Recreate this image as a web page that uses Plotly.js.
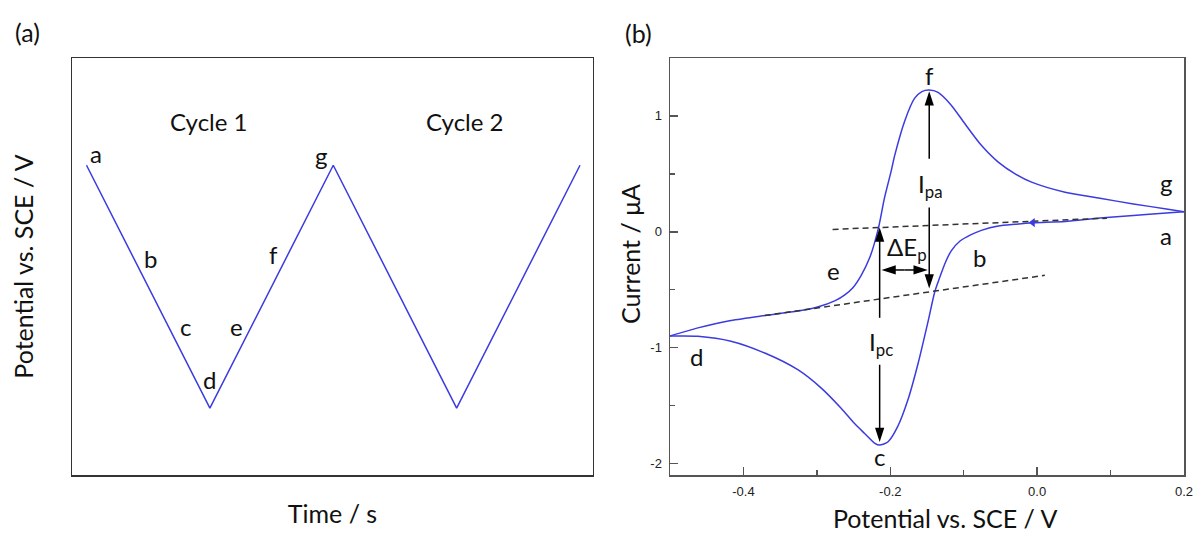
<!DOCTYPE html>
<html>
<head>
<meta charset="utf-8">
<script src="https://cdn.plot.ly/plotly-3.0.1.min.js"></script>
<style>html,body{margin:0;padding:0;background:#fff;}#chart{width:1195px;height:534px;}</style>
</head>
<body>
<div id="chart"></div>
<script>
// ---------- Panel (a): potential waveform ----------
const timeVals = [0, 1, 2, 3, 4];
const potentialVals = [0.2, -0.5, 0.2, -0.5, 0.2];
const waveLabels = ['a', 'b', 'c', 'd', 'e', 'f', 'g'];
const waveLabelT = [0.08, 0.515, 0.80, 0.993, 1.219, 1.519, 1.90];
const waveLabelE = [0.234, -0.068, -0.266, -0.416, -0.266, -0.056, 0.229];
const cycleLabels = ['Cycle 1', 'Cycle 2'];
const cycleLabelT = [0.993, 3.067];
const cycleLabelE = [0.325, 0.325];

// ---------- Panel (b): cyclic voltammogram ----------
// cathodic sweep a -> d (0.2 V down to -0.5 V)
const eCathodic = [0.2, 0.176, 0.131, 0.0855, 0.038, -0.005, -0.030, -0.053, -0.076, -0.090, -0.105, -0.117, -0.125, -0.133, -0.1395, -0.149, -0.162, -0.176, -0.190, -0.203, -0.2145, -0.221, -0.235, -0.249, -0.267, -0.294, -0.326, -0.371, -0.417, -0.462, -0.5];
const iCathodic = [0.173, 0.162, 0.140, 0.119, 0.089, 0.078, 0.065, 0.050, 0.012, -0.025, -0.080, -0.165, -0.265, -0.400, -0.520, -0.786, -1.133, -1.451, -1.683, -1.813, -1.842, -1.827, -1.741, -1.654, -1.524, -1.350, -1.191, -1.047, -0.945, -0.902, -0.900];
// anodic sweep d -> g (-0.5 V back to 0.2 V)
const eAnodic = [-0.5, -0.462, -0.417, -0.371, -0.326, -0.299, -0.275, -0.262, -0.251, -0.240, -0.228, -0.2165, -0.208, -0.1986, -0.194, -0.180, -0.167, -0.157, -0.147, -0.135, -0.117, -0.0986, -0.076, -0.053, -0.030, -0.0076, 0.038, 0.0855, 0.131, 0.176, 0.2];
const iAnodic = [-0.900, -0.830, -0.766, -0.723, -0.685, -0.650, -0.595, -0.545, -0.483, -0.380, -0.223, 0.023, 0.290, 0.530, 0.659, 0.963, 1.151, 1.210, 1.223, 1.203, 1.093, 0.934, 0.746, 0.601, 0.500, 0.428, 0.341, 0.289, 0.240, 0.197, 0.173];
// baselines (dashed)
const baseAnodicE = [-0.2786, 0.095];
const baseAnodicI = [0.020, 0.117];
const baseCathodicE = [-0.371, 0.0105];
const baseCathodicI = [-0.723, -0.376];
// scan direction marker
const scanDirE = [-0.006];
const scanDirI = [0.079];
// peak current / separation arrows: [fromE, fromI, toE, toI]
const ipaArrowUp = [-0.147, 0.63, -0.147, 1.214];
const ipaArrowDown = [-0.147, 0.21, -0.147, -0.49];
const ipcArrowUp = [-0.2145, -0.743, -0.2145, 0.037];
const ipcArrowDown = [-0.2145, -1.148, -0.2145, -1.815];
const dEpArrowLeft = [-0.1805, -0.33, -0.212, -0.33];
const dEpArrowRight = [-0.1805, -0.33, -0.149, -0.33];
// tick labels
const xTickVals = [-0.4, -0.2, 0.0, 0.2];
const xTickText = ['-0.4', '-0.2', '0.0', '0.2'];
const xMinorVals = [-0.3, -0.1, 0.1];
const yTickVals = [-2, -1, 0, 1];
const yTickText = ['-2', '-1', '0', '1'];
const yMinorVals = [-1.5, -0.5, 0.5];
const cvLabels = ['f', 'g', 'a', 'b', 'c', 'd', 'e'];
const cvLabelE = [-0.147, 0.176, 0.176, -0.078, -0.2145, -0.464, -0.278];
const cvLabelI = [1.353, 0.428, -0.035, -0.223, -1.943, -1.075, -0.338];

const BLUE = '#3b3be0';
const TXT = '#111';
const FONT = 'Lato, "Open Sans", sans-serif';
const LETTER = 24;
const TITLE = 25;

const traces = [
  {x: timeVals, y: potentialVals, xaxis: 'x', yaxis: 'y', mode: 'lines',
   line: {color: BLUE, width: 1.5}, hoverinfo: 'skip', showlegend: false},
  {x: eCathodic, y: iCathodic, xaxis: 'x2', yaxis: 'y2', mode: 'lines',
   line: {color: BLUE, width: 1.5, shape: 'spline', smoothing: 0.7}, showlegend: false},
  {x: eAnodic, y: iAnodic, xaxis: 'x2', yaxis: 'y2', mode: 'lines',
   line: {color: BLUE, width: 1.5, shape: 'spline', smoothing: 0.7}, showlegend: false},
  {x: baseAnodicE, y: baseAnodicI, xaxis: 'x2', yaxis: 'y2', mode: 'lines',
   line: {color: '#333', width: 1.5, dash: '6px,4px'}, showlegend: false},
  {x: baseCathodicE, y: baseCathodicI, xaxis: 'x2', yaxis: 'y2', mode: 'lines',
   line: {color: '#333', width: 1.5, dash: '6px,4px'}, showlegend: false},
  {x: scanDirE, y: scanDirI, xaxis: 'x2', yaxis: 'y2', mode: 'markers',
   marker: {symbol: 'triangle-left', size: 8, color: BLUE}, showlegend: false}
];

[ipaArrowUp, ipaArrowDown, ipcArrowUp, ipcArrowDown, dEpArrowLeft, dEpArrowRight].forEach(a => {
  traces.push({x: [a[0], a[2]], y: [a[1], a[3]], xaxis: 'x2', yaxis: 'y2', mode: 'lines+markers',
    line: {color: '#000', width: 1.5},
    marker: {symbol: 'arrow', angleref: 'previous', size: [0, 15], color: '#000', opacity: 1,
      line: {width: 0}},
    showlegend: false});
});

const annotations = [];
function txt(ax, x, y, text, size) {
  annotations.push({xref: ax[0], yref: ax[1], x: x, y: y, text: text, showarrow: false,
    xanchor: 'center', yanchor: 'middle',
    font: {family: FONT, size: size || LETTER, color: TXT}});
}
waveLabels.forEach((l, i) => txt(['x', 'y'], waveLabelT[i], waveLabelE[i], l));
cycleLabels.forEach((l, i) => txt(['x', 'y'], cycleLabelT[i], cycleLabelE[i], l));
cvLabels.forEach((l, i) => txt(['x2', 'y2'], cvLabelE[i], cvLabelI[i], l));
txt(['x2', 'y2'], -0.146, 0.40, 'I<sub>pa</sub>');
txt(['x2', 'y2'], -0.177, -0.148, 'ΔE<sub>p</sub>');
txt(['x2', 'y2'], -0.2125, -0.967, 'I<sub>pc</sub>');

// panel letters and titles of panel (b)
txt(['paper', 'paper'], -0.0396, 1.062, '(a)', TITLE);
txt(['paper', 'paper'], 0.509, 1.060, '(b)', TITLE);
txt(['paper', 'paper'], 0.785, -0.104, 'Potential vs. SCE / V', TITLE);
annotations.push({xref: 'paper', yref: 'paper', x: 0.5018, y: 0.530, text: 'Current / μA', showarrow: false,
  xanchor: 'center', yanchor: 'middle', textangle: -90, font: {family: FONT, size: TITLE, color: TXT}});

const frameA = {showline: true, mirror: true, linecolor: '#333', linewidth: 1.5, showgrid: false,
  zeroline: false, showticklabels: false, ticks: '', fixedrange: true};

const tickFont = {family: '"Liberation Sans", Arial, sans-serif', size: 13, color: '#222'};
const layout = {
  width: 1195, height: 534,
  margin: {l: 72, r: 11, t: 58, b: 59},
  paper_bgcolor: '#fff', plot_bgcolor: '#fff',
  showlegend: false,
  xaxis: Object.assign({}, frameA, {domain: [0, 0.4685], range: [-0.1175, 4.105],
    title: {text: 'Time / s', standoff: 30, font: {family: FONT, size: TITLE, color: TXT}}}),
  yaxis: Object.assign({}, frameA, {domain: [0, 1], range: [-0.6926, 0.509],
    title: {text: 'Potential vs. SCE / V', standoff: 30, font: {family: FONT, size: TITLE, color: TXT}}}),
  xaxis2: {domain: [0.5378, 1], anchor: 'y2', range: [-0.5, 0.2], showline: true, mirror: true,
    linecolor: '#555', linewidth: 1.5, showgrid: false, zeroline: false,
    tickmode: 'array', tickvals: xTickVals, ticktext: xTickText,
    ticks: 'inside', ticklen: 8, tickwidth: 1.5, tickcolor: '#555', ticklabelstandoff: 4,
    tickfont: tickFont,
    minor: {tickmode: 'array', tickvals: xMinorVals, ticks: 'inside', ticklen: 5, tickwidth: 1.5, tickcolor: '#555'}},
  yaxis2: {domain: [0, 1], anchor: 'x2', range: [-2.1, 1.5], showline: true, mirror: true,
    linecolor: '#555', linewidth: 1.5, showgrid: false, zeroline: false,
    tickmode: 'array', tickvals: yTickVals, ticktext: yTickText,
    ticks: 'inside', ticklen: 8, tickwidth: 1.5, tickcolor: '#555', ticklabelstandoff: 4,
    tickfont: tickFont,
    minor: {tickmode: 'array', tickvals: yMinorVals, ticks: 'inside', ticklen: 5, tickwidth: 1.5, tickcolor: '#555'}},
  annotations: annotations
};

Plotly.newPlot('chart', traces, layout, {staticPlot: true, displayModeBar: false});
</script>
</body>
</html>
